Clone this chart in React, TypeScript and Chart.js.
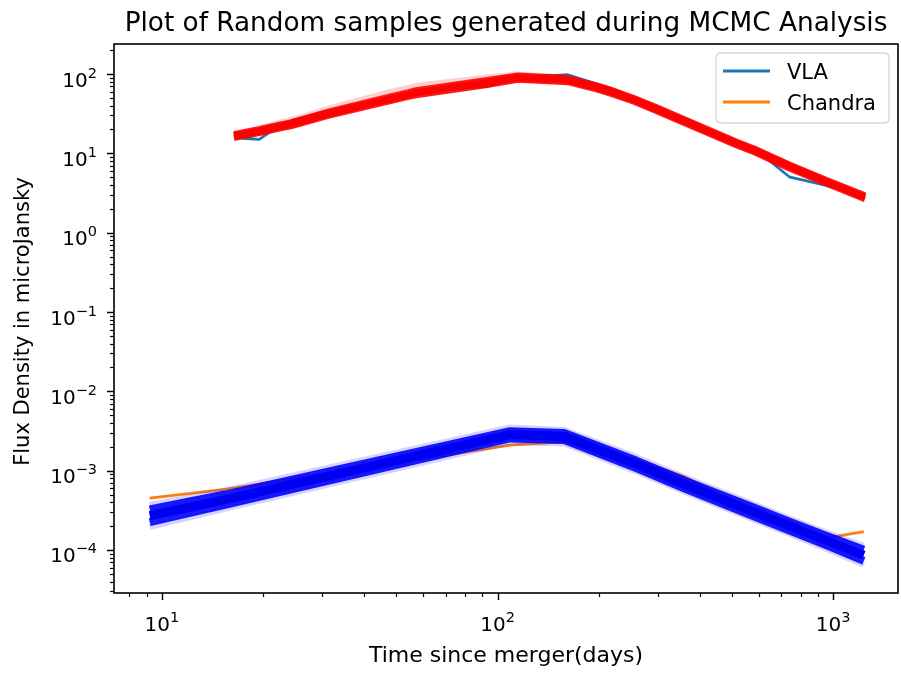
import React, { useEffect, useRef } from 'react';
import { Chart, registerables } from 'chart.js';

Chart.register(...registerables);

// ---- data ----
const vlaDays = [16.4, 17.4, 19.5, 22.4, 24.2, 31.3, 46.3, 54.3, 57.2, 93.1, 115, 162, 197, 217, 256, 298, 516, 582, 743, 940, 1243];
const vlaFlux = [18.5, 15.5, 15.0, 22.5, 25.6, 34, 48, 56, 61, 70, 90, 98, 75, 66, 48, 36, 14, 11.5, 5.0, 4.0, 2.9];

const chandraDays = [9.2, 15.4, 109, 158, 260, 358, 582, 741, 940, 1234];
const chandraFlux = [4.5e-4, 5.8e-4, 2.1e-3, 2.3e-3, 1.35e-3, 8.5e-4, 3.0e-4, 2.3e-4, 1.4e-4, 1.7e-4];

// MCMC sample curves (radio model at VLA epochs)
const redMid = [16.5, 17.3, 19.0, 21.7, 23.2, 31.5, 47, 55, 58, 78, 90, 84, 68, 60, 47, 36, 13.3, 10.9, 6.8, 4.5, 2.8];
const redHi = [17.4, 18.3, 20.1, 23, 24.6, 33.5, 50.5, 59, 62.5, 84, 96, 89, 72, 63.5, 49.5, 38, 14, 11.5, 7.2, 4.75, 2.97];
const redLo = [15.6, 16.4, 18.0, 20.5, 21.9, 29.7, 44, 51.5, 54, 72.5, 84.5, 79, 64, 56.5, 44.5, 34, 12.6, 10.3, 6.4, 4.25, 2.64];
const redHi2 = [17.8, 18.8, 21, 24.5, 26.5, 37, 58, 68, 72, 92, 100, 91, 73, 64, 50, 38.5, 14.2, 11.6, 7.3, 4.8, 3.0];

// MCMC sample curves (X-ray model at Chandra epochs)
const blueMid = [2.7e-4, 4.3e-4, 2.85e-3, 2.7e-3, 1.2e-3, 6.8e-4, 3.0e-4, 2.0e-4, 1.35e-4, 8.6e-5];
const blueHi = [3.25e-4, 5.0e-4, 3.15e-3, 2.98e-3, 1.33e-3, 7.6e-4, 3.4e-4, 2.27e-4, 1.55e-4, 1.01e-4];
const blueLo = [2.25e-4, 3.7e-4, 2.55e-3, 2.43e-3, 1.07e-3, 6.05e-4, 2.65e-4, 1.76e-4, 1.18e-4, 7.3e-5];
const blueHi2 = [3.7e-4, 5.6e-4, 3.5e-3, 3.25e-3, 1.48e-3, 8.4e-4, 3.75e-4, 2.5e-4, 1.7e-4, 1.13e-4];
const blueLo2 = [1.95e-4, 3.3e-4, 2.3e-3, 2.2e-3, 9.7e-4, 5.5e-4, 2.4e-4, 1.6e-4, 1.06e-4, 6.5e-5];

// ---- axes ----
const xMin = 7.2;
const xMax = 1560;
const yMin = 2.87e-5;
const yMax = 239;
const xMajorTicks = [10, 100, 1000];
const xTickExponents = ['1', '2', '3'];
const yMajorTicks = [1e-4, 1e-3, 1e-2, 1e-1, 1, 10, 100];
const yTickExponents = ['\u22124', '\u22123', '\u22122', '\u22121', '0', '1', '2'];

const titleText = 'Plot of Random samples generated during MCMC Analysis';
const xLabelText = 'Time since merger(days)';
const yLabelText = 'Flux Density in microJansky';
const legendLabels = ['VLA', 'Chandra'];
const legendColors = ['#1f77b4', '#ff7f0e'];

const FONT = '"DejaVu Sans", Verdana, sans-serif';

function pts(xs: number[], ys: number[]) {
  return xs.map((x, i) => ({ x, y: ys[i] }));
}

function minorTicks(min: number, max: number, majors: number[]) {
  const out: number[] = [];
  for (let e = Math.floor(Math.log10(min)); e <= Math.ceil(Math.log10(max)); e++) {
    for (let m = 2; m <= 9; m++) {
      const v = m * Math.pow(10, e);
      if (v >= min && v <= max && !majors.includes(v)) out.push(v);
    }
  }
  return out;
}

const decorPlugin = {
  id: 'decor',
  afterDatasetsDraw(chart: any) {
    const { ctx, chartArea: a, scales } = chart;
    const xs = scales.x;
    const ys = scales.y;
    ctx.save();

    // frame
    ctx.strokeStyle = '#000';
    ctx.lineWidth = 1.6;
    ctx.strokeRect(a.left, a.top, a.right - a.left, a.bottom - a.top);

    // x ticks
    ctx.lineWidth = 1.5;
    xMajorTicks.forEach((v) => {
      const px = Math.round(xs.getPixelForValue(v)) + 0.5;
      ctx.beginPath();
      ctx.moveTo(px, a.bottom);
      ctx.lineTo(px, a.bottom + 7);
      ctx.stroke();
    });
    ctx.lineWidth = 1.2;
    minorTicks(xMin, xMax, xMajorTicks).forEach((v) => {
      const px = Math.round(xs.getPixelForValue(v)) + 0.5;
      ctx.beginPath();
      ctx.moveTo(px, a.bottom);
      ctx.lineTo(px, a.bottom + 4);
      ctx.stroke();
    });
    // y ticks
    ctx.lineWidth = 1.5;
    yMajorTicks.forEach((v) => {
      const py = Math.round(ys.getPixelForValue(v)) + 0.5;
      ctx.beginPath();
      ctx.moveTo(a.left, py);
      ctx.lineTo(a.left - 7, py);
      ctx.stroke();
    });
    ctx.lineWidth = 1.2;
    minorTicks(yMin, yMax, yMajorTicks).forEach((v) => {
      const py = Math.round(ys.getPixelForValue(v)) + 0.5;
      ctx.beginPath();
      ctx.moveTo(a.left, py);
      ctx.lineTo(a.left - 4, py);
      ctx.stroke();
    });

    // tick labels
    ctx.fillStyle = '#000';
    ctx.textBaseline = 'alphabetic';
    ctx.textAlign = 'left';
    const baseFont = `20px ${FONT}`;
    const supFont = `14.5px ${FONT}`;
    xMajorTicks.forEach((v, i) => {
      const px = xs.getPixelForValue(v);
      ctx.font = baseFont;
      const w1 = ctx.measureText('10').width;
      ctx.font = supFont;
      const w2 = ctx.measureText(xTickExponents[i]).width;
      const x0 = px - (w1 + w2) / 2;
      ctx.font = baseFont;
      ctx.fillText('10', x0, a.bottom + 38);
      ctx.font = supFont;
      ctx.fillText(xTickExponents[i], x0 + w1, a.bottom + 29);
    });
    yMajorTicks.forEach((v, i) => {
      const py = ys.getPixelForValue(v);
      ctx.font = baseFont;
      const w1 = ctx.measureText('10').width;
      ctx.font = supFont;
      const w2 = ctx.measureText(yTickExponents[i]).width;
      const x0 = a.left - 17 - (w1 + w2);
      ctx.font = baseFont;
      ctx.fillText('10', x0, py + 12.5);
      ctx.font = supFont;
      ctx.fillText(yTickExponents[i], x0 + w1, py + 3.5);
    });

    // axis titles
    ctx.textAlign = 'center';
    ctx.font = `22px ${FONT}`;
    ctx.fillText(xLabelText, (a.left + a.right) / 2, 662);
    ctx.save();
    ctx.font = `21px ${FONT}`;
    ctx.translate(28.5, (a.top + a.bottom) / 2 + 3);
    ctx.rotate(-Math.PI / 2);
    ctx.fillText(yLabelText, 0, 0);
    ctx.restore();

    // title
    ctx.font = `26.3px ${FONT}`;
    ctx.fillText(titleText, (a.left + a.right) / 2, 31);

    // legend
    const lx = 716, ly = 53, lw = 173, lh = 70, r = 5;
    ctx.beginPath();
    ctx.moveTo(lx + r, ly);
    ctx.lineTo(lx + lw - r, ly);
    ctx.quadraticCurveTo(lx + lw, ly, lx + lw, ly + r);
    ctx.lineTo(lx + lw, ly + lh - r);
    ctx.quadraticCurveTo(lx + lw, ly + lh, lx + lw - r, ly + lh);
    ctx.lineTo(lx + r, ly + lh);
    ctx.quadraticCurveTo(lx, ly + lh, lx, ly + lh - r);
    ctx.lineTo(lx, ly + r);
    ctx.quadraticCurveTo(lx, ly, lx + r, ly);
    ctx.closePath();
    ctx.fillStyle = 'rgba(255,255,255,0.8)';
    ctx.fill();
    ctx.strokeStyle = '#d6d6d6';
    ctx.lineWidth = 1.3;
    ctx.stroke();
    legendLabels.forEach((lab, i) => {
      const yy = 71 + i * 31;
      ctx.strokeStyle = legendColors[i];
      ctx.lineWidth = 3;
      ctx.beginPath();
      ctx.moveTo(723, yy);
      ctx.lineTo(770, yy);
      ctx.stroke();
      ctx.fillStyle = '#000';
      ctx.font = `21px ${FONT}`;
      ctx.textAlign = 'left';
      ctx.fillText(lab, 787, yy + 8);
    });

    ctx.restore();
  },
};

export default function App() {
  const canvasRef = useRef<HTMLCanvasElement | null>(null);

  useEffect(() => {
    document.body.style.margin = '0';
    const canvas = canvasRef.current;
    if (!canvas) return;

    const line = (data: any, color: string, width: number, order: number) => ({
      data,
      borderColor: color,
      backgroundColor: color,
      borderWidth: width,
      pointRadius: 0,
      pointHoverRadius: 0,
      tension: 0,
      fill: false,
      borderCapStyle: 'butt',
      borderJoinStyle: 'round',
      order,
    });

    const chart = new Chart(canvas, {
      type: 'line',
      data: {
        datasets: [
          line(pts(chandraDays, blueHi2), 'rgba(60,60,255,0.22)', 6, 2),
          line(pts(chandraDays, blueLo2), 'rgba(60,60,255,0.22)', 6, 2),
          line(pts(chandraDays, blueHi), 'rgba(0,0,255,0.9)', 8, 1),
          line(pts(chandraDays, blueLo), 'rgba(0,0,255,0.9)', 8, 1),
          line(pts(chandraDays, blueMid), 'rgba(0,0,240,1)', 9, 0),
          line(pts(vlaDays, redHi2), 'rgba(255,40,40,0.22)', 5, 2),
          line(pts(vlaDays, redHi), 'rgba(255,0,0,0.9)', 6, 1),
          line(pts(vlaDays, redLo), 'rgba(255,0,0,0.9)', 6, 1),
          line(pts(vlaDays, redMid), 'rgba(255,0,0,1)', 7, 0),
          line(pts(vlaDays, vlaFlux), '#1f77b4', 2.8, 5),
          line(pts(chandraDays, chandraFlux), '#ff7f0e', 2.8, 5),
        ] as any,
      },
      options: {
        animation: false,
        responsive: false,
        devicePixelRatio: 1,
        layout: { padding: { left: 0, top: 44, right: 3, bottom: 0 } },
        plugins: {
          legend: { display: false },
          title: { display: false },
          tooltip: { enabled: false },
        },
        scales: {
          x: {
            type: 'logarithmic',
            min: xMin,
            max: xMax,
            grid: { display: false },
            border: { display: false },
            ticks: { display: false },
            afterFit: (s: any) => { s.height = 80; },
          },
          y: {
            type: 'logarithmic',
            min: yMin,
            max: yMax,
            grid: { display: false },
            border: { display: false },
            ticks: { display: false },
            afterFit: (s: any) => { s.width = 114; },
          },
        },
      } as any,
      plugins: [decorPlugin],
    });

    return () => chart.destroy();
  }, []);

  return (
    <div style={{ width: 901, height: 673, background: '#fff' }}>
      <canvas ref={canvasRef} width={901} height={673} style={{ display: 'block' }} />
    </div>
  );
}
